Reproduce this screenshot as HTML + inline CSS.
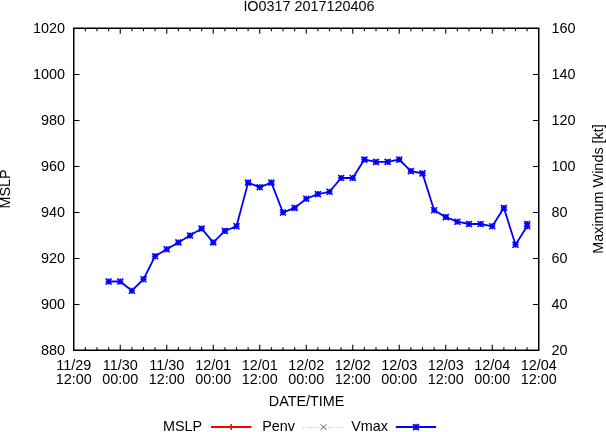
<!DOCTYPE html><html><head><meta charset="utf-8"><style>html,body{margin:0;padding:0;background:#fff;}svg{display:block;will-change:transform;}text{font-family:"Liberation Sans",sans-serif;font-size:14.4px;fill:#000;}</style></head><body>
<svg width="606" height="432" viewBox="0 0 606 432">
<rect width="606" height="432" fill="#fff"/>
<path d="M73.75 74.50h5.75M538.75 74.50h-5.75M73.75 120.50h5.75M538.75 120.50h-5.75M73.75 166.50h5.75M538.75 166.50h-5.75M73.75 212.50h5.75M538.75 212.50h-5.75M73.75 258.50h5.75M538.75 258.50h-5.75M73.75 304.50h5.75M538.75 304.50h-5.75M85.38 350.25v-3M85.38 28.25v3M97.00 350.25v-3M97.00 28.25v3M108.62 350.25v-3M108.62 28.25v3M120.25 350.25v-5.5M120.25 28.25v5.5M131.88 350.25v-3M131.88 28.25v3M143.50 350.25v-3M143.50 28.25v3M155.12 350.25v-3M155.12 28.25v3M166.75 350.25v-5.5M166.75 28.25v5.5M178.38 350.25v-3M178.38 28.25v3M190.00 350.25v-3M190.00 28.25v3M201.62 350.25v-3M201.62 28.25v3M213.25 350.25v-5.5M213.25 28.25v5.5M224.88 350.25v-3M224.88 28.25v3M236.50 350.25v-3M236.50 28.25v3M248.12 350.25v-3M248.12 28.25v3M259.75 350.25v-5.5M259.75 28.25v5.5M271.38 350.25v-3M271.38 28.25v3M283.00 350.25v-3M283.00 28.25v3M294.62 350.25v-3M294.62 28.25v3M306.25 350.25v-5.5M306.25 28.25v5.5M317.88 350.25v-3M317.88 28.25v3M329.50 350.25v-3M329.50 28.25v3M341.12 350.25v-3M341.12 28.25v3M352.75 350.25v-5.5M352.75 28.25v5.5M364.38 350.25v-3M364.38 28.25v3M376.00 350.25v-3M376.00 28.25v3M387.62 350.25v-3M387.62 28.25v3M399.25 350.25v-5.5M399.25 28.25v5.5M410.88 350.25v-3M410.88 28.25v3M422.50 350.25v-3M422.50 28.25v3M434.12 350.25v-3M434.12 28.25v3M445.75 350.25v-5.5M445.75 28.25v5.5M457.38 350.25v-3M457.38 28.25v3M469.00 350.25v-3M469.00 28.25v3M480.62 350.25v-3M480.62 28.25v3M492.25 350.25v-5.5M492.25 28.25v5.5M503.88 350.25v-3M503.88 28.25v3M515.50 350.25v-3M515.50 28.25v3M527.12 350.25v-3M527.12 28.25v3" stroke="#000" stroke-width="1.1" fill="none"/>
<rect x="73.75" y="28.25" width="465.0" height="322.0" fill="none" stroke="#000" stroke-width="1.5"/>
<text x="65" y="33.2" text-anchor="end">1020</text>
<text x="551.4" y="33.2">160</text>
<text x="65" y="79.2" text-anchor="end">1000</text>
<text x="551.4" y="79.2">140</text>
<text x="65" y="125.2" text-anchor="end">980</text>
<text x="551.4" y="125.2">120</text>
<text x="65" y="171.2" text-anchor="end">960</text>
<text x="551.4" y="171.2">100</text>
<text x="65" y="217.2" text-anchor="end">940</text>
<text x="551.4" y="217.2">80</text>
<text x="65" y="263.2" text-anchor="end">920</text>
<text x="551.4" y="263.2">60</text>
<text x="65" y="309.2" text-anchor="end">900</text>
<text x="551.4" y="309.2">40</text>
<text x="65" y="355.2" text-anchor="end">880</text>
<text x="551.4" y="355.2">20</text>
<text x="73.75" y="370" text-anchor="middle">11/29</text>
<text x="73.75" y="384" text-anchor="middle">12:00</text>
<text x="120.25" y="370" text-anchor="middle">11/30</text>
<text x="120.25" y="384" text-anchor="middle">00:00</text>
<text x="166.75" y="370" text-anchor="middle">11/30</text>
<text x="166.75" y="384" text-anchor="middle">12:00</text>
<text x="213.25" y="370" text-anchor="middle">12/01</text>
<text x="213.25" y="384" text-anchor="middle">00:00</text>
<text x="259.75" y="370" text-anchor="middle">12/01</text>
<text x="259.75" y="384" text-anchor="middle">12:00</text>
<text x="306.25" y="370" text-anchor="middle">12/02</text>
<text x="306.25" y="384" text-anchor="middle">00:00</text>
<text x="352.75" y="370" text-anchor="middle">12/02</text>
<text x="352.75" y="384" text-anchor="middle">12:00</text>
<text x="399.25" y="370" text-anchor="middle">12/03</text>
<text x="399.25" y="384" text-anchor="middle">00:00</text>
<text x="445.75" y="370" text-anchor="middle">12/03</text>
<text x="445.75" y="384" text-anchor="middle">12:00</text>
<text x="492.25" y="370" text-anchor="middle">12/04</text>
<text x="492.25" y="384" text-anchor="middle">00:00</text>
<text x="538.75" y="370" text-anchor="middle">12/04</text>
<text x="538.75" y="384" text-anchor="middle">12:00</text>
<text x="306.6" y="406" text-anchor="middle">DATE/TIME</text>
<text x="309" y="10.6" text-anchor="middle">IO0317 2017120406</text>
<text transform="translate(10.4 189) rotate(-90)" text-anchor="middle">MSLP</text>
<text transform="translate(602.5 189) rotate(-90)" text-anchor="middle">Maximum Winds [kt]</text>
<path d="M108.62 281.50L120.25 281.50L131.88 290.70L143.50 279.20L155.12 256.20L166.75 249.30L178.38 242.40L190.00 235.50L201.62 228.60L213.25 242.40L224.88 230.90L236.50 226.30L248.12 182.60L259.75 187.20L271.38 182.60L283.00 212.50L294.62 207.90L306.25 198.70L317.88 194.10L329.50 191.80L341.12 178.00L352.75 178.00L364.38 159.60L376.00 161.90L387.62 161.90L399.25 159.60L410.88 171.10L422.50 173.40L434.12 210.20L445.75 217.10L457.38 221.70L469.00 224.00L480.62 224.00L492.25 226.30L503.88 207.90L515.50 244.70L527.12 226.30" stroke="#00f" stroke-width="1.8" fill="none" stroke-linejoin="miter"/>
<path d="M105.62 281.50h6.00M108.62 278.50v6.00M105.62 278.50l6.00 6.00M105.62 284.50l6.00 -6.00M117.25 281.50h6.00M120.25 278.50v6.00M117.25 278.50l6.00 6.00M117.25 284.50l6.00 -6.00M128.88 290.70h6.00M131.88 287.70v6.00M128.88 287.70l6.00 6.00M128.88 293.70l6.00 -6.00M140.50 279.20h6.00M143.50 276.20v6.00M140.50 276.20l6.00 6.00M140.50 282.20l6.00 -6.00M152.12 256.20h6.00M155.12 253.20v6.00M152.12 253.20l6.00 6.00M152.12 259.20l6.00 -6.00M163.75 249.30h6.00M166.75 246.30v6.00M163.75 246.30l6.00 6.00M163.75 252.30l6.00 -6.00M175.38 242.40h6.00M178.38 239.40v6.00M175.38 239.40l6.00 6.00M175.38 245.40l6.00 -6.00M187.00 235.50h6.00M190.00 232.50v6.00M187.00 232.50l6.00 6.00M187.00 238.50l6.00 -6.00M198.62 228.60h6.00M201.62 225.60v6.00M198.62 225.60l6.00 6.00M198.62 231.60l6.00 -6.00M210.25 242.40h6.00M213.25 239.40v6.00M210.25 239.40l6.00 6.00M210.25 245.40l6.00 -6.00M221.88 230.90h6.00M224.88 227.90v6.00M221.88 227.90l6.00 6.00M221.88 233.90l6.00 -6.00M233.50 226.30h6.00M236.50 223.30v6.00M233.50 223.30l6.00 6.00M233.50 229.30l6.00 -6.00M245.12 182.60h6.00M248.12 179.60v6.00M245.12 179.60l6.00 6.00M245.12 185.60l6.00 -6.00M256.75 187.20h6.00M259.75 184.20v6.00M256.75 184.20l6.00 6.00M256.75 190.20l6.00 -6.00M268.38 182.60h6.00M271.38 179.60v6.00M268.38 179.60l6.00 6.00M268.38 185.60l6.00 -6.00M280.00 212.50h6.00M283.00 209.50v6.00M280.00 209.50l6.00 6.00M280.00 215.50l6.00 -6.00M291.62 207.90h6.00M294.62 204.90v6.00M291.62 204.90l6.00 6.00M291.62 210.90l6.00 -6.00M303.25 198.70h6.00M306.25 195.70v6.00M303.25 195.70l6.00 6.00M303.25 201.70l6.00 -6.00M314.88 194.10h6.00M317.88 191.10v6.00M314.88 191.10l6.00 6.00M314.88 197.10l6.00 -6.00M326.50 191.80h6.00M329.50 188.80v6.00M326.50 188.80l6.00 6.00M326.50 194.80l6.00 -6.00M338.12 178.00h6.00M341.12 175.00v6.00M338.12 175.00l6.00 6.00M338.12 181.00l6.00 -6.00M349.75 178.00h6.00M352.75 175.00v6.00M349.75 175.00l6.00 6.00M349.75 181.00l6.00 -6.00M361.38 159.60h6.00M364.38 156.60v6.00M361.38 156.60l6.00 6.00M361.38 162.60l6.00 -6.00M373.00 161.90h6.00M376.00 158.90v6.00M373.00 158.90l6.00 6.00M373.00 164.90l6.00 -6.00M384.62 161.90h6.00M387.62 158.90v6.00M384.62 158.90l6.00 6.00M384.62 164.90l6.00 -6.00M396.25 159.60h6.00M399.25 156.60v6.00M396.25 156.60l6.00 6.00M396.25 162.60l6.00 -6.00M407.88 171.10h6.00M410.88 168.10v6.00M407.88 168.10l6.00 6.00M407.88 174.10l6.00 -6.00M419.50 173.40h6.00M422.50 170.40v6.00M419.50 170.40l6.00 6.00M419.50 176.40l6.00 -6.00M431.12 210.20h6.00M434.12 207.20v6.00M431.12 207.20l6.00 6.00M431.12 213.20l6.00 -6.00M442.75 217.10h6.00M445.75 214.10v6.00M442.75 214.10l6.00 6.00M442.75 220.10l6.00 -6.00M454.38 221.70h6.00M457.38 218.70v6.00M454.38 218.70l6.00 6.00M454.38 224.70l6.00 -6.00M466.00 224.00h6.00M469.00 221.00v6.00M466.00 221.00l6.00 6.00M466.00 227.00l6.00 -6.00M477.62 224.00h6.00M480.62 221.00v6.00M477.62 221.00l6.00 6.00M477.62 227.00l6.00 -6.00M489.25 226.30h6.00M492.25 223.30v6.00M489.25 223.30l6.00 6.00M489.25 229.30l6.00 -6.00M500.88 207.90h6.00M503.88 204.90v6.00M500.88 204.90l6.00 6.00M500.88 210.90l6.00 -6.00M512.50 244.70h6.00M515.50 241.70v6.00M512.50 241.70l6.00 6.00M512.50 247.70l6.00 -6.00M524.12 226.30h6.00M527.12 223.30v6.00M524.12 223.30l6.00 6.00M524.12 229.30l6.00 -6.00M524.12 224.00h6.00M527.12 221.00v6.00M524.12 221.00l6.00 6.00M524.12 227.00l6.00 -6.00" stroke="#00f" stroke-width="1.6" fill="none"/>
<text x="163" y="431">MSLP</text>
<path d="M211 427H251.5" stroke="#f00" stroke-width="1.8" fill="none"/><path d="M231.2 424v6M228 427h6.5" stroke="#f00" stroke-width="1.5" fill="none"/>
<text x="262.2" y="431">Penv</text>
<path d="M303 427.5H343.3" stroke="#b4b4b4" stroke-width="1" stroke-dasharray="1 1.75" fill="none"/>
<path d="M320.6 424.2l5.8 5.8M320.6 430l5.8 -5.8" stroke="#606060" stroke-width="1" fill="none"/>
<text x="351.2" y="431">Vmax</text>
<path d="M395.8 427H436.1" stroke="#00f" stroke-width="1.8" fill="none"/>
<path d="M413.00 427.10h6.00M416.00 424.10v6.00M413.00 424.10l6.00 6.00M413.00 430.10l6.00 -6.00" stroke="#00f" stroke-width="1.6" fill="none"/>
</svg></body></html>
